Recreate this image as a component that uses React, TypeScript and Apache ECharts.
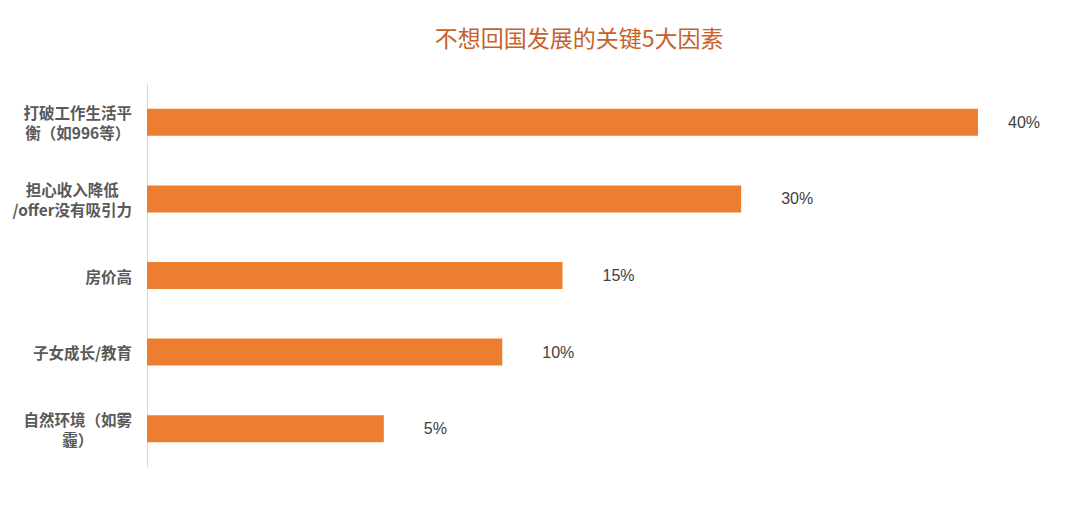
import React, { useEffect, useRef } from "react";
import * as echarts from "echarts";

const title = "不想回国发展的关键5大因素";
const categories = [
  "打破工作生活平\n衡（如996等）",
  "担心收入降低\n/offer没有吸引力",
  "房价高",
  "子女成长/教育",
  "自然环境（如雾\n霾）",
];
// percentage labels shown next to bars
const shareLabels = [40, 30, 15, 10, 5];
// bar lengths as drawn in the picture (same scale as the 40% bar)
const barLengths = [40, 28.6, 20.0, 17.1, 11.4];

export default function App() {
  const ref = useRef<HTMLDivElement>(null);
  useEffect(() => {
    document.body.style.margin = "0";
    const chart = echarts.init(ref.current!, null, { renderer: "svg" });
    chart.setOption({
      animation: false,
      backgroundColor: "#ffffff",
      title: {
        text: title,
        left: 574,
        top: 20,
        textAlign: "center",
        textStyle: {
          color: "#C8612A",
          fontSize: 23,
          fontWeight: "normal",
          fontFamily: "Noto Sans CJK SC",
        },
      },
      grid: { left: 147, right: 102, top: 84, bottom: 40, containLabel: false },
      xAxis: {
        type: "value",
        min: 0,
        max: 40,
        show: false,
      },
      yAxis: {
        type: "category",
        inverse: true,
        data: categories,
        axisLine: { show: true, lineStyle: { color: "#D9D9D9", width: 1 } },
        axisTick: { show: false },
        axisLabel: {
          margin: 15,
          formatter: (v: string) =>
            v
              .split("\n")
              .map((l) => "{c|" + l + "}")
              .join("\n"),
          rich: {
            c: {
              align: "center",
              color: "#595959",
              fontSize: 15.5,
              fontWeight: "bold",
              lineHeight: 20,
              fontFamily: "Noto Sans CJK SC",
            },
          },
        },
        splitLine: { show: false },
      },
      series: [
        {
          type: "bar",
          barWidth: 27,
          itemStyle: { color: "#ED7D31" },
          data: barLengths.map((v, i) => ({
            value: v,
            label: i === 0 ? { distance: 30 } : undefined,
          })),
          label: {
            show: true,
            position: "right",
            distance: 40,
            color: "#404040",
            fontSize: 16,
            fontFamily: "Liberation Sans",
            formatter: (p: any) => shareLabels[p.dataIndex] + "%",
          },
        },
      ],
    });
    return () => chart.dispose();
  }, []);
  return <div ref={ref} style={{ width: 1080, height: 507 }} />;
}
